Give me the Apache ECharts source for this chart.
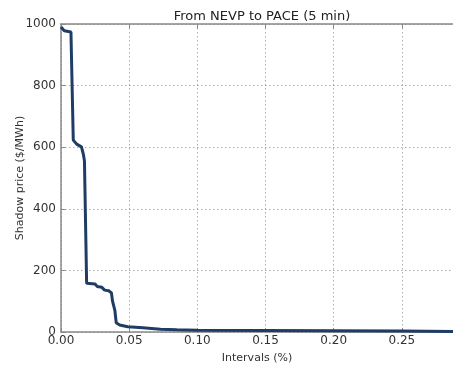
<!DOCTYPE html>
<html>
<head>
<meta charset="utf-8">
<script src="https://cdn.jsdelivr.net/npm/echarts@6/dist/echarts.min.js"></script>
<style>
html, body { margin: 0; padding: 0; background: #fff; }
#chart { width: 453px; height: 368px; }
</style>
</head>
<body>
<div id="chart"></div>
<script>
var chart = echarts.init(document.getElementById('chart'));

// share of intervals (%) and shadow price ($/MWh)
var intervals = [0.0000, 0.0024, 0.0073, 0.0080, 0.0090, 0.0115, 0.0150, 0.0165, 0.0172, 0.0188,
    0.0250, 0.0265, 0.0300, 0.0320, 0.0350, 0.0370, 0.0378, 0.0395, 0.0405, 0.0430,
    0.0490, 0.0600, 0.0730, 0.0850, 0.1000, 0.1500, 0.2000, 0.2500, 0.2875];
var prices = [990, 978, 974, 972, 623, 610, 601, 575, 555, 158,
    156, 148, 145, 136, 134, 127, 100, 70, 30, 23,
    17, 14, 9, 7, 6, 5, 4, 3, 2];

var xTicks = [0, 0.05, 0.10, 0.15, 0.20, 0.25];
var yTicks = [0, 200, 400, 600, 800, 1000];

var points = intervals.map(function (v, i) { return [v, prices[i]]; });

var font = 'DejaVu Sans';
var gridLine = { show: true, lineStyle: { color: '#aaa', type: [1.5, 2.5], width: 1 } };

var option = {
    animation: false,
    title: {
        text: 'From NEVP to PACE (5 min)',
        left: 257,
        top: 5,
        textAlign: 'center',
        textStyle: { fontFamily: font, fontSize: 13, fontWeight: 'normal', color: '#222' }
    },
    grid: { left: 61, top: 24, right: 0, bottom: 36, outerBoundsMode: 'none', containLabel: false },
    xAxis: [{
        type: 'value',
        min: 0,
        max: 0.2875,
        interval: 0.05,
        name: 'Intervals (%)',
        nameLocation: 'middle',
        nameGap: 21,
        nameTextStyle: { fontFamily: font, fontSize: 11, color: '#333' },
        axisLine: { lineStyle: { color: '#888', width: 1.5 } },
        axisTick: { inside: true, length: 4, lineStyle: { color: '#888' } },
        axisLabel: {
            fontFamily: font, fontSize: 12, color: '#333', margin: 3,
            showMaxLabel: false,
            formatter: function (v) { return xTicks.indexOf(Math.round(v * 100) / 100) >= 0 ? v.toFixed(2) : ''; }
        },
        splitLine: gridLine
    }, {
        type: 'value',
        position: 'top',
        min: 0,
        max: 0.2875,
        interval: 0.05,
        axisLine: { show: true, lineStyle: { color: '#888', width: 1.5 } },
        axisTick: { show: true, inside: true, length: 4, lineStyle: { color: '#888' } },
        axisLabel: { show: false },
        splitLine: { show: false }
    }],
    yAxis: {
        type: 'value',
        min: 0,
        max: 1000,
        interval: 200,
        name: 'Shadow price ($/MWh)',
        nameLocation: 'middle',
        nameGap: 35,
        nameMoveOverlap: false,
        nameTextStyle: { fontFamily: font, fontSize: 11, color: '#333' },
        axisLine: { show: true, lineStyle: { color: '#888', width: 1.5 } },
        axisTick: { show: true, inside: true, length: 4, lineStyle: { color: '#888' } },
        axisLabel: {
            fontFamily: font, fontSize: 12, color: '#333', margin: 5,
            formatter: function (v) { return yTicks.indexOf(v) >= 0 ? String(v) : ''; }
        },
        splitLine: gridLine
    },
    series: [{
        type: 'line',
        data: points,
        showSymbol: false,
        lineStyle: { color: '#1f3d64', width: 3 },
        z: 5
    }]
};
chart.setOption(option);
</script>
</body>
</html>
